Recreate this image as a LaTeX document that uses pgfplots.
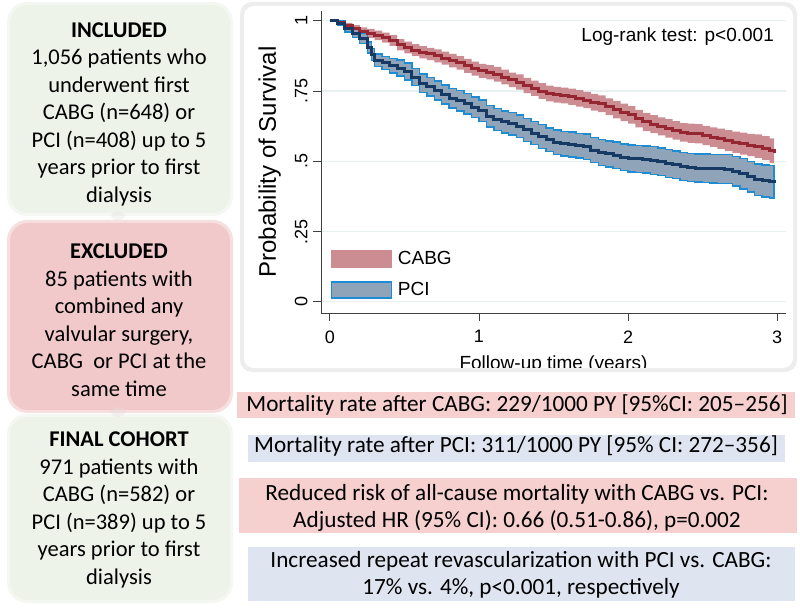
\documentclass[border=0pt]{standalone}
\usepackage{fontspec}
\setmainfont{Carlito}
\newfontfamily\arial{Liberation Sans}
\usepackage{pgfplots}
\usepackage{pgfplotstable}
\pgfplotsset{compat=1.18}

\definecolor{greenbox}{RGB}{238,243,233}
\definecolor{exclbox}{RGB}{242,201,202}
\definecolor{pinkbox}{RGB}{246,207,207}
\definecolor{bluebox}{RGB}{222,228,240}
\definecolor{cabgfill}{RGB}{203,140,146}
\definecolor{cabgline}{RGB}{150,38,50}
\definecolor{pcifill}{RGB}{143,163,185}
\definecolor{pciedge}{RGB}{30,140,210}
\definecolor{pciline}{RGB}{22,58,100}
\definecolor{gridc}{RGB}{232,240,242}

% Kaplan-Meier estimates
\pgfplotstableread{
t s
0.00 1.000
0.05 0.995
0.10 0.983
0.15 0.973
0.20 0.963
0.25 0.955
0.30 0.948
0.35 0.940
0.40 0.930
0.45 0.915
0.50 0.905
0.55 0.896
0.60 0.888
0.65 0.882
0.70 0.875
0.75 0.867
0.80 0.858
0.85 0.850
0.90 0.840
0.95 0.830
1.00 0.822
1.05 0.817
1.10 0.810
1.15 0.800
1.20 0.790
1.25 0.782
1.30 0.770
1.35 0.760
1.40 0.750
1.45 0.741
1.50 0.737
1.55 0.734
1.60 0.730
1.65 0.724
1.70 0.718
1.75 0.710
1.80 0.705
1.85 0.694
1.90 0.684
1.95 0.674
2.00 0.665
2.05 0.652
2.10 0.640
2.15 0.632
2.20 0.624
2.25 0.617
2.30 0.610
2.35 0.603
2.40 0.600
2.45 0.598
2.50 0.592
2.55 0.586
2.60 0.580
2.65 0.574
2.70 0.568
2.75 0.563
2.80 0.558
2.85 0.554
2.90 0.547
2.95 0.538
2.98 0.530
}\cabgdata

\pgfplotstableread{
t s
0.00 1.000
0.05 0.992
0.10 0.972
0.15 0.955
0.20 0.937
0.25 0.905
0.28 0.880
0.30 0.860
0.35 0.850
0.40 0.840
0.45 0.832
0.50 0.820
0.55 0.800
0.60 0.778
0.65 0.765
0.70 0.752
0.75 0.738
0.80 0.725
0.85 0.715
0.90 0.705
0.95 0.692
1.00 0.680
1.05 0.660
1.10 0.648
1.15 0.640
1.20 0.634
1.25 0.625
1.30 0.612
1.35 0.600
1.40 0.588
1.45 0.576
1.50 0.568
1.55 0.562
1.60 0.560
1.65 0.556
1.70 0.552
1.75 0.540
1.80 0.532
1.85 0.526
1.90 0.521
1.95 0.515
2.00 0.510
2.05 0.509
2.10 0.507
2.15 0.503
2.20 0.498
2.25 0.492
2.30 0.487
2.35 0.482
2.40 0.478
2.45 0.476
2.50 0.475
2.55 0.474
2.60 0.473
2.65 0.472
2.70 0.465
2.75 0.456
2.80 0.445
2.85 0.435
2.90 0.430
2.95 0.427
2.98 0.424
}\pcidata

% 95% CI bands: upper bound forward, then lower bound backward
\pgfplotstableread{
t y
0.00 1.000
0.05 1.000
0.10 0.993
0.15 0.985
0.20 0.977
0.25 0.971
0.30 0.965
0.35 0.958
0.40 0.949
0.45 0.935
0.50 0.926
0.55 0.917
0.60 0.910
0.65 0.904
0.70 0.898
0.75 0.890
0.80 0.882
0.85 0.874
0.90 0.865
0.95 0.855
1.00 0.847
1.05 0.842
1.10 0.836
1.15 0.826
1.20 0.816
1.25 0.809
1.30 0.797
1.35 0.787
1.40 0.778
1.45 0.769
1.50 0.765
1.55 0.762
1.60 0.759
1.65 0.753
1.70 0.747
1.75 0.740
1.80 0.735
1.85 0.724
1.90 0.715
1.95 0.705
2.00 0.696
2.05 0.683
2.10 0.672
2.15 0.664
2.20 0.656
2.25 0.650
2.30 0.643
2.35 0.636
2.40 0.634
2.45 0.632
2.50 0.626
2.55 0.621
2.60 0.616
2.65 0.611
2.70 0.606
2.75 0.602
2.80 0.598
2.85 0.596
2.90 0.590
2.95 0.582
2.98 0.575
2.98 0.485
2.98 0.494
2.95 0.504
2.90 0.512
2.85 0.518
2.80 0.524
2.75 0.530
2.70 0.537
2.65 0.544
2.60 0.551
2.55 0.558
2.50 0.564
2.45 0.566
2.40 0.570
2.35 0.577
2.30 0.584
2.25 0.592
2.20 0.600
2.15 0.608
2.10 0.621
2.05 0.634
2.00 0.643
1.95 0.653
1.90 0.664
1.85 0.675
1.80 0.680
1.75 0.689
1.70 0.695
1.65 0.701
1.60 0.706
1.55 0.709
1.50 0.713
1.45 0.722
1.40 0.733
1.35 0.743
1.30 0.755
1.25 0.764
1.20 0.774
1.15 0.784
1.10 0.792
1.05 0.797
1.00 0.805
0.95 0.815
0.90 0.826
0.85 0.834
0.80 0.844
0.75 0.852
0.70 0.860
0.65 0.866
0.60 0.875
0.55 0.884
0.50 0.895
0.45 0.911
0.40 0.922
0.35 0.931
0.30 0.939
0.25 0.949
0.20 0.961
0.15 0.973
0.10 0.989
0.05 1.000
0.00 1.000
}\cabgband

\pgfplotstableread{
t y
0.00 1.000
0.05 0.999
0.10 0.984
0.15 0.970
0.20 0.955
0.25 0.925
0.28 0.901
0.30 0.882
0.35 0.874
0.40 0.866
0.45 0.860
0.50 0.850
0.55 0.831
0.60 0.811
0.65 0.798
0.70 0.786
0.75 0.772
0.80 0.760
0.85 0.751
0.90 0.742
0.95 0.729
1.00 0.718
1.05 0.698
1.10 0.687
1.15 0.679
1.20 0.674
1.25 0.665
1.30 0.653
1.35 0.641
1.40 0.630
1.45 0.618
1.50 0.611
1.55 0.605
1.60 0.604
1.65 0.600
1.70 0.597
1.75 0.585
1.80 0.578
1.85 0.572
1.90 0.568
1.95 0.562
2.00 0.558
2.05 0.557
2.10 0.555
2.15 0.552
2.20 0.547
2.25 0.541
2.30 0.536
2.35 0.532
2.40 0.528
2.45 0.526
2.50 0.526
2.55 0.525
2.60 0.525
2.65 0.524
2.70 0.518
2.75 0.510
2.80 0.500
2.85 0.491
2.90 0.487
2.95 0.484
2.98 0.482
2.98 0.366
2.98 0.370
2.95 0.373
2.90 0.379
2.85 0.390
2.80 0.402
2.75 0.412
2.70 0.420
2.65 0.421
2.60 0.423
2.55 0.424
2.50 0.426
2.45 0.428
2.40 0.432
2.35 0.438
2.30 0.443
2.25 0.449
2.20 0.454
2.15 0.459
2.10 0.461
2.05 0.462
2.00 0.468
1.95 0.474
1.90 0.480
1.85 0.486
1.80 0.495
1.75 0.507
1.70 0.512
1.65 0.516
1.60 0.519
1.55 0.525
1.50 0.534
1.45 0.546
1.40 0.559
1.35 0.571
1.30 0.585
1.25 0.594
1.20 0.601
1.15 0.609
1.10 0.622
1.05 0.642
1.00 0.655
0.95 0.668
0.90 0.679
0.85 0.690
0.80 0.704
0.75 0.718
0.70 0.732
0.65 0.745
0.60 0.769
0.55 0.790
0.50 0.804
0.45 0.814
0.40 0.826
0.35 0.838
0.30 0.859
0.28 0.885
0.25 0.919
0.20 0.940
0.15 0.960
0.10 0.985
0.05 1.000
0.00 1.000
}\pciband

\begin{document}
\begin{tikzpicture}
\begin{scope}[x=1pt,y=-1pt]
\path (0,0) rectangle (800,609);
% ---- left flow boxes ----
\fill[greenbox!60, rounded corners=20pt] (7,2) rectangle (233,216);
\fill[greenbox, rounded corners=18pt] (10,5) rectangle (230,213);
\fill[exclbox!60, rounded corners=20pt] (7,220) rectangle (233,413);
\fill[exclbox, rounded corners=18pt] (10,223) rectangle (230,410);
\fill[greenbox!60, rounded corners=20pt] (7,414) rectangle (233,603);
\fill[greenbox, rounded corners=18pt] (10,417) rectangle (230,600);
\fill[exclbox!70!black!30, opacity=0.35] (118,216) ellipse (7pt and 4pt);
\fill[exclbox!70!black!30, opacity=0.35] (118,412) ellipse (7pt and 5pt);

\node[font=\fontsize{22.5}{27.5}\selectfont, align=center, inner sep=0pt] at (119,114)
 {\textbf{INCLUDED}\\1,056 patients who\\underwent first\\CABG (n=648) or\\PCI (n=408) up to 5\\years prior to first\\dialysis};
\node[font=\fontsize{22.5}{27.5}\selectfont, align=center, inner sep=0pt] at (119,320)
 {\textbf{EXCLUDED}\\85 patients with\\combined any\\valvular surgery,\\CABG\ \ or PCI at the\\same time};
\node[font=\fontsize{22.5}{27.5}\selectfont, align=center, inner sep=0pt] at (119,510)
 {\textbf{FINAL COHORT}\\971 patients with\\CABG (n=582) or\\PCI (n=389) up to 5\\years prior to first\\dialysis};

% ---- right result boxes ----
\fill[pinkbox] (237,392) rectangle (795,418);
\fill[bluebox] (248,435) rectangle (785,462);
\fill[pinkbox] (239,478) rectangle (797,533);
\fill[bluebox] (248,547) rectangle (795,601);
\node[font=\fontsize{23.2}{27.5}\selectfont, inner sep=0pt] at (517,405)
 {Mortality rate after CABG: 229/1000 PY [95\%CI: 205--256]};
\node[font=\fontsize{23.2}{27.5}\selectfont, inner sep=0pt] at (516,446)
 {Mortality rate after PCI: 311/1000 PY [95\% CI: 272--356]};
\node[font=\fontsize{23.2}{27.5}\selectfont, align=center, inner sep=0pt] at (517,508)
 {Reduced risk of all-cause mortality with CABG vs. PCI:\\Adjusted HR (95\% CI): 0.66 (0.51-0.86), p=0.002};
\node[font=\fontsize{23.2}{27.5}\selectfont, align=center, inner sep=0pt] at (521,575)
 {Increased repeat revascularization with PCI vs. CABG:\\17\% vs. 4\%, p<0.001, respectively};

% ---- chart panel ----
\fill[black!7, rounded corners=12pt] (240,2) rectangle (797,372);
\fill[white, rounded corners=10pt] (244,6) rectangle (793,368);
\end{scope}
\begin{scope}
\clip[rounded corners=10pt] (244pt,-6pt) rectangle (793pt,-367pt);
\begin{axis}[
  at={(321pt,-313pt)}, anchor=south west,
  scale only axis, width=465pt, height=302pt,
  xmin=-0.06, xmax=3.06, ymin=-0.04, ymax=1.035,
  axis lines=left, axis line style={-, line width=0.9pt, color=black!75},
  xtick={0,1,2,3}, xticklabels={0,1,2,3},
  ytick={0,0.25,0.5,0.75,1}, yticklabels={0,.25,.5,.75,1},
  tick align=outside, major tick length=8pt,
  tick style={black!75, line width=0.9pt},
  ymajorgrids, grid style={color=gridc, line width=1.2pt},
  ticklabel style={font=\arial\fontsize{18}{20}\selectfont},
  xticklabel shift=6pt, yticklabel shift=2pt,
  yticklabel style={rotate=90, anchor=south},
  xlabel={Follow-up time (years)}, ylabel={Probability of Survival},
  xlabel style={font=\arial\fontsize{19}{21}\selectfont},
  ylabel style={font=\arial\fontsize{24}{26}\selectfont},
  xlabel shift=6pt, ylabel shift=7pt,
  legend style={at={(0.02,0.21)}, anchor=north west, draw=none, fill=none,
    font=\arial\fontsize{19}{21}\selectfont, row sep=14pt, column sep=6pt,
    inner sep=0pt, nodes={inner sep=0pt}},
  legend cell align=left,
]
\addplot[const plot, fill=cabgfill, draw=none, forget plot] table[x=t,y=y]{\cabgband} -- cycle;
\addplot[const plot, fill=pcifill, draw=pciedge, line width=1.4pt, forget plot] table[x=t,y=y]{\pciband} -- cycle;
\addplot[const plot, draw=cabgline, line width=3pt, forget plot] table[x=t,y=s]{\cabgdata};
\addplot[const plot, draw=pciline, line width=3pt, forget plot] table[x=t,y=s]{\pcidata};
\addlegendimage{legend image code/.code={\fill[cabgfill] (0pt,-8.5pt) rectangle (60pt,8.5pt);}}
\addlegendentry{CABG}
\addlegendimage{legend image code/.code={\draw[fill=pcifill, draw=pciedge, line width=1.4pt] (0pt,-8pt) rectangle (60pt,8pt);}}
\addlegendentry{PCI}
\node[anchor=east, font=\arial\fontsize{19}{21}\selectfont, inner sep=0pt] at (axis cs:2.98,0.943) {Log-rank test: p<0.001};
\end{axis}
\end{scope}
\end{tikzpicture}
\end{document}
